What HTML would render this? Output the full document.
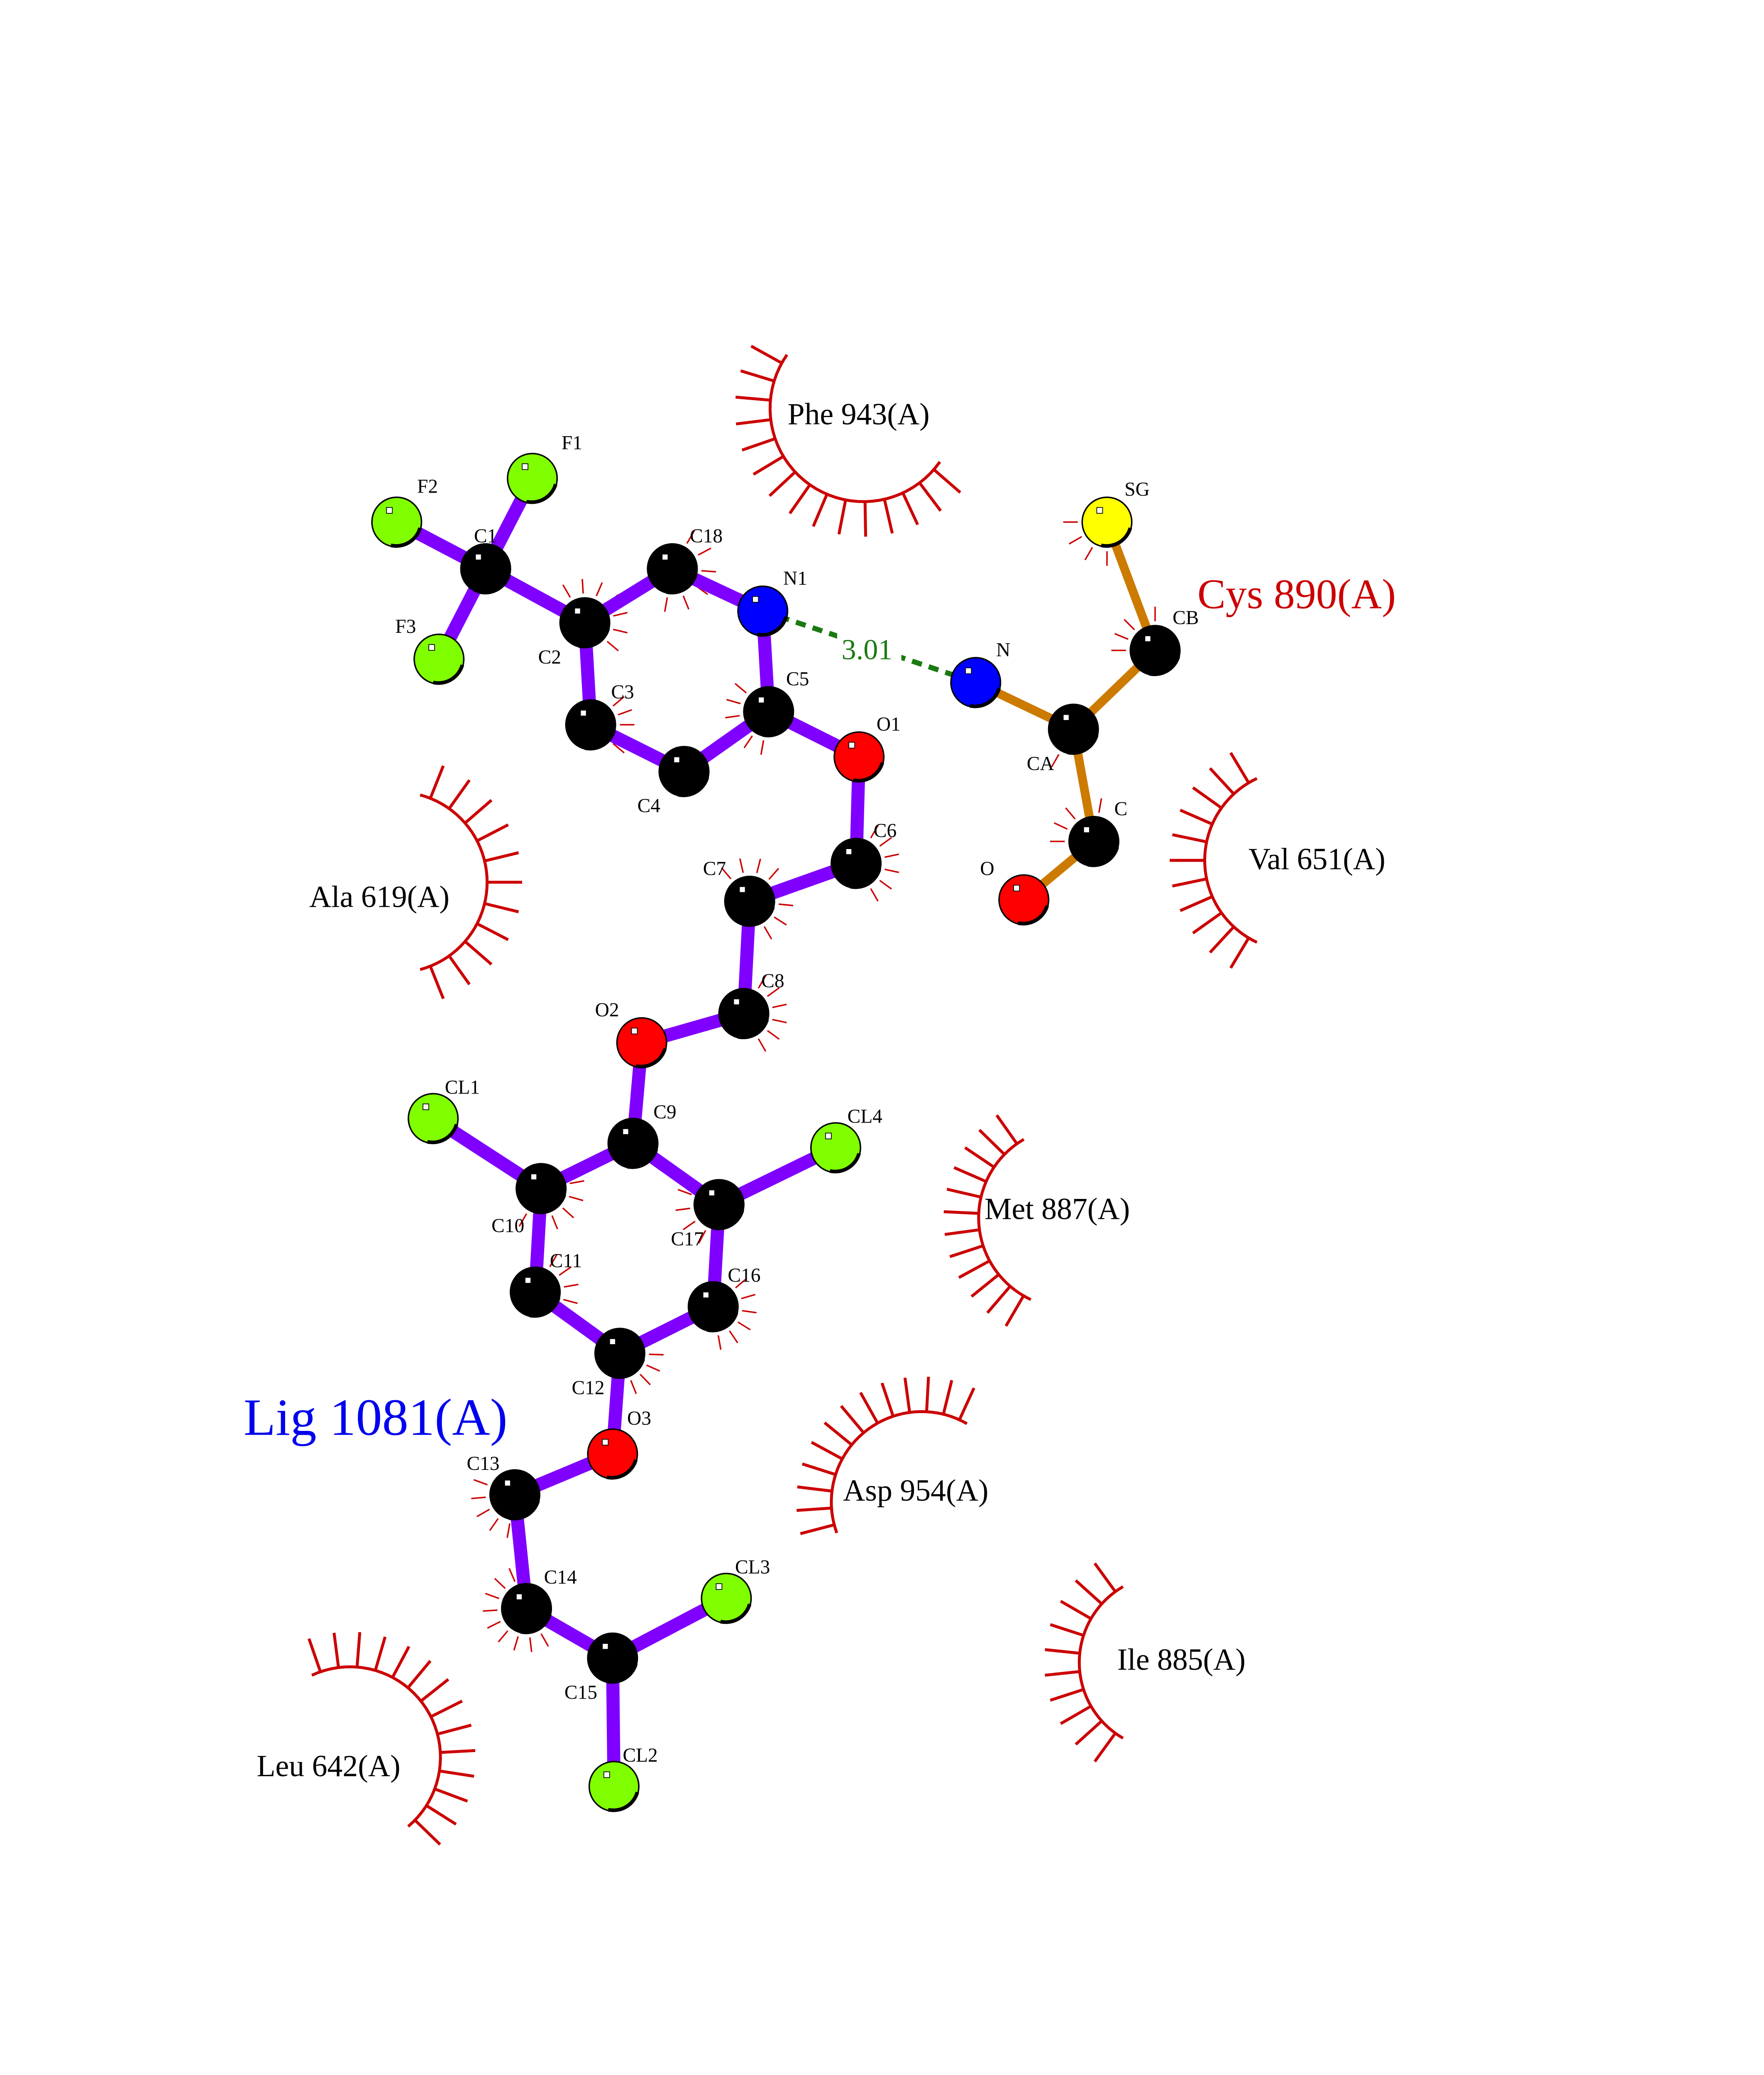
<!DOCTYPE html>
<html><head><meta charset="utf-8"><style>html,body{margin:0;padding:0;background:#fff;overflow:hidden;width:4250px;height:5500px}svg{display:block}</style></head><body>
<svg id="s" width="4250" height="5500" viewBox="0 0 1224 1584" xmlns="http://www.w3.org/2000/svg" font-family="'Liberation Serif',serif">
<rect width="1224" height="1584" fill="#fff"/>
<g transform="scale(1.012)">
<g id="arcs" stroke="#cc0000" fill="none" stroke-width="2"></g>
<g stroke="#8000ff" stroke-width="9" stroke-linecap="round">
<line x1="365" y1="328" x2="333" y2="390"/><line x1="272" y1="358" x2="333" y2="390"/><line x1="301" y1="452" x2="333" y2="390"/>
<line x1="333" y1="390" x2="401" y2="427"/><line x1="401" y1="427" x2="461" y2="390"/><line x1="461" y1="390" x2="523" y2="419"/>
<line x1="401" y1="427" x2="405" y2="497"/><line x1="405" y1="497" x2="469" y2="529"/><line x1="469" y1="529" x2="527" y2="488"/>
<line x1="527" y1="488" x2="523" y2="419"/><line x1="527" y1="488" x2="589" y2="519"/><line x1="589" y1="519" x2="587" y2="592"/>
<line x1="587" y1="592" x2="514" y2="618"/><line x1="514" y1="618" x2="510" y2="695"/><line x1="510" y1="695" x2="440" y2="715"/>
<line x1="440" y1="715" x2="434" y2="784"/><line x1="434" y1="784" x2="371" y2="815"/><line x1="371" y1="815" x2="297" y2="767"/>
<line x1="434" y1="784" x2="493" y2="826"/><line x1="493" y1="826" x2="573" y2="787"/><line x1="371" y1="815" x2="367" y2="886"/>
<line x1="367" y1="886" x2="425" y2="928"/><line x1="493" y1="826" x2="489" y2="896"/><line x1="489" y1="896" x2="425" y2="928"/>
<line x1="425" y1="928" x2="420" y2="997"/><line x1="420" y1="997" x2="353" y2="1025"/><line x1="353" y1="1025" x2="361" y2="1103"/>
<line x1="361" y1="1103" x2="420" y2="1137"/><line x1="420" y1="1137" x2="498" y2="1096"/><line x1="420" y1="1137" x2="421" y2="1225"/>
</g>
<g stroke="#cc7a00" stroke-width="6" stroke-linecap="round">
<line x1="759" y1="358" x2="792" y2="446"/><line x1="792" y1="446" x2="736" y2="500"/><line x1="669" y1="468" x2="736" y2="500"/>
<line x1="736" y1="500" x2="750" y2="577"/><line x1="750" y1="577" x2="702" y2="617"/>
</g>
<line x1="523" y1="419" x2="669" y2="468" stroke="#1a7a10" stroke-width="3.5" stroke-dasharray="7,5"/>
<rect x="574" y="432" width="44" height="22" fill="#fff"/>
<text x="577" y="452" font-size="20" fill="#1a7a10">3.01</text>
<g id="atoms" stroke="#000" stroke-width="1"></g>
<g font-size="13.5" fill="#000" id="lbl"></g>
<g font-size="21" fill="#000">
<text x="540" y="291">Phe 943(A)</text>
<text x="212" y="622">Ala 619(A)</text>
<text x="856" y="596">Val 651(A)</text>
<text x="675" y="836">Met 887(A)</text>
<text x="578" y="1029">Asp 954(A)</text>
<text x="766" y="1145">Ile 885(A)</text>
<text x="176" y="1218">Leu 642(A)</text>
</g>
<text x="821" y="417" font-size="29" fill="#cc0000">Cys 890(A)</text>
<text x="167" y="984" font-size="36" fill="#0000ee">Lig 1081(A)</text>
<text x="57" y="1470" font-size="14">.</text>
</g>
</svg>
<script>
var NS="http://www.w3.org/2000/svg";
function el(p,t,a){var e=document.createElementNS(NS,t);for(var k in a)e.setAttribute(k,a[k]);p.appendChild(e);return e;}
var arcs=document.getElementById('arcs');
function arc(cx,cy,r,a0,a1,n){
 var d="";for(var i=0;i<=40;i++){var a=(a0+(a1-a0)*i/40)*Math.PI/180;d+=(i?"L":"M")+(cx+r*Math.cos(a))+" "+(cy+r*Math.sin(a));}
 el(arcs,'path',{d:d});
 for(var i=0;i<n;i++){var a=(a0+(a1-a0)*(i+0.5)/n)*Math.PI/180;
 el(arcs,'line',{x1:cx+r*Math.cos(a),y1:cy+r*Math.sin(a),x2:cx+(r+24)*Math.cos(a),y2:cy+(r+24)*Math.sin(a)});}
}
arc(592,280,64,215,35,15);
arc(272,605,62,-75,75,11);
arc(888,590,62,245,115,11);
arc(733,835,62,240,115,12);
arc(632,1030,62,-60,-200,13);
arc(800,1140,60,240,120,10);
arc(240,1205,62,-115,50,14);
function ticks(x,y,a0,a1,n){for(var i=0;i<n;i++){var a=(a0+(a1-a0)*i/(n-1))*Math.PI/180;
 el(arcs,'line',{x1:x+20*Math.cos(a),y1:y+20*Math.sin(a),x2:x+30*Math.cos(a),y2:y+30*Math.sin(a),'stroke-width':1});}}
ticks(401,427,-120,40,7);ticks(461,390,-60,100,6);ticks(527,488,100,220,6);ticks(405,497,-40,40,5);
ticks(587,592,-60,60,6);ticks(514,618,-130,60,8);ticks(510,695,-60,60,6);ticks(371,815,-10,120,6);
ticks(493,826,90,200,5);ticks(367,886,-60,40,5);ticks(425,928,-20,90,6);ticks(489,896,-40,80,6);
ticks(353,1025,100,200,5);ticks(361,1103,60,270,10);ticks(792,446,180,270,5);ticks(750,577,180,280,5);
ticks(759,358,90,180,4);ticks(736,500,80,120,2);
var at=document.getElementById('atoms'),lb=document.getElementById('lbl');
var A=[["F1",365,328,"#80ff00",20,-20],["F2",272,358,"#80ff00",14,-20],["F3",301,452,"#80ff00",-30,-18],["C1",333,390,"#000",-8,-18],
["C2",401,427,"#000",-32,28],["C18",461,390,"#000",12,-18],["N1",523,419,"#0000ff",14,-18],["C3",405,497,"#000",14,-18],
["C4",469,529,"#000",-32,28],["C5",527,488,"#000",12,-18],["O1",589,519,"#ff0000",12,-18],["C6",587,592,"#000",12,-18],
["C7",514,618,"#000",-32,-18],["C8",510,695,"#000",12,-18],["O2",440,715,"#ff0000",-32,-18],["C9",434,784,"#000",14,-17],
["CL1",297,767,"#80ff00",8,-17],["C10",371,815,"#000",-34,30],["C17",493,826,"#000",-33,28],["CL4",573,787,"#80ff00",8,-17],
["C11",367,886,"#000",10,-17],["C16",489,896,"#000",10,-17],["C12",425,928,"#000",-33,28],["O3",420,997,"#ff0000",10,-20],
["C13",353,1025,"#000",-33,-17],["C14",361,1103,"#000",12,-17],["C15",420,1137,"#000",-33,28],["CL3",498,1096,"#80ff00",6,-17],
["CL2",421,1225,"#80ff00",6,-17],["SG",759,358,"#ffff00",12,-18],["CB",792,446,"#000",12,-18],["N",669,468,"#0000ff",14,-18],
["CA",736,500,"#000",-32,28],["C",750,577,"#000",14,-18],["O",702,617,"#ff0000",-30,-17]];
A.forEach(function(a){el(at,'circle',{cx:a[1],cy:a[2],r:17,fill:a[3]});
 el(at,'path',{d:"M"+(a[1]-4)+" "+(a[2]+16)+" A17 17 0 0 0 "+(a[1]+16)+" "+(a[2]+4),fill:"none","stroke-width":2.5});
 el(at,'rect',{x:a[1]-7,y:a[2]-10,width:4,height:4,fill:"#fff","stroke-width":0.5});
 var t=el(lb,'text',{x:a[1]+a[4],y:a[2]+a[5]});t.textContent=a[0];});
</script>
</body></html>
